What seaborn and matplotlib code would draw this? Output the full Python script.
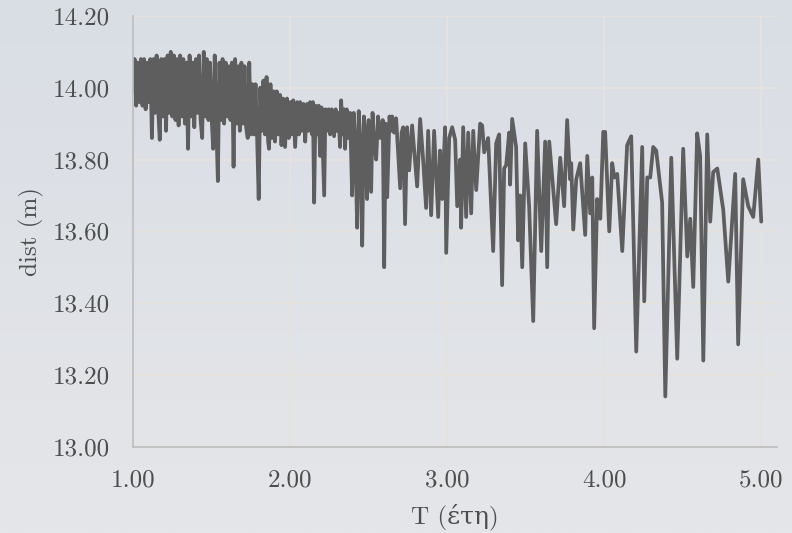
import numpy as np
import pandas as pd
import matplotlib
matplotlib.use("Agg")
import matplotlib.pyplot as plt
from matplotlib.colors import LinearSegmentedColormap
from matplotlib.ticker import FormatStrFormatter
import seaborn as sns

# Time (years) and distance (m) samples
t_years = [
    1.00, 1.01, 1.02, 1.03, 1.04, 1.05, 1.06, 1.07, 1.08, 1.09,
    1.10, 1.11, 1.12, 1.13, 1.14, 1.15, 1.16, 1.17, 1.18, 1.19,
    1.20, 1.21, 1.22, 1.23, 1.24, 1.25, 1.26, 1.27, 1.28, 1.29,
    1.30, 1.31, 1.32, 1.33, 1.34, 1.35, 1.36, 1.37, 1.38, 1.39,
    1.40, 1.41, 1.42, 1.43, 1.44, 1.45, 1.46, 1.47, 1.48, 1.49,
    1.50, 1.51, 1.52, 1.53, 1.54, 1.55, 1.56, 1.57, 1.58, 1.59,
    1.60, 1.61, 1.62, 1.63, 1.64, 1.65, 1.66, 1.67, 1.68, 1.69,
    1.70, 1.71, 1.72, 1.73, 1.74, 1.75,
    1.760, 1.770, 1.780, 1.790, 1.800, 1.810, 1.820, 1.830, 1.840, 1.850,
    1.860, 1.866, 1.875, 1.885, 1.895, 1.904, 1.915, 1.925, 1.936, 1.945,
    1.955, 1.968, 1.980, 1.992, 2.000, 2.010, 2.020, 2.032, 2.045, 2.056,
    2.064, 2.075, 2.085, 2.096, 2.108, 2.118, 2.127, 2.140, 2.145, 2.153,
    2.162, 2.172, 2.182, 2.191, 2.200, 2.217, 2.225, 2.235, 2.245, 2.255,
    2.265, 2.280, 2.290, 2.300, 2.308, 2.318, 2.325, 2.335, 2.343, 2.350,
    2.360, 2.372, 2.382, 2.395, 2.405, 2.415, 2.427, 2.437, 2.448, 2.459,
    2.470, 2.480, 2.490, 2.500, 2.516, 2.525, 2.535, 2.548, 2.560, 2.575,
    2.590, 2.599,
    2.609, 2.618, 2.633, 2.643, 2.650, 2.662, 2.675, 2.701, 2.710, 2.720,
    2.732, 2.745, 2.758, 2.777, 2.809, 2.828, 2.847, 2.866, 2.879, 2.898,
    2.917, 2.943, 2.955, 2.968, 2.987, 2.994, 3.013, 3.032, 3.051, 3.064,
    3.083, 3.089, 3.102, 3.121, 3.134, 3.153, 3.166, 3.185, 3.210, 3.223,
    3.236, 3.261, 3.293, 3.312, 3.331, 3.350, 3.363, 3.376, 3.395, 3.401,
    3.414, 3.439, 3.452, 3.465, 3.478, 3.497, 3.522, 3.548, 3.573, 3.599,
    3.624, 3.637, 3.650, 3.694, 3.720, 3.745, 3.764, 3.783, 3.790, 3.803,
    3.822, 3.847, 3.879, 3.892, 3.911, 3.924, 3.936, 3.955, 3.975, 3.994,
    4.006, 4.032, 4.051, 4.064, 4.083, 4.115, 4.146, 4.172, 4.204, 4.242,
    4.255, 4.274, 4.293, 4.312, 4.331, 4.369, 4.389, 4.427, 4.465, 4.503,
    4.529, 4.548, 4.567, 4.592, 4.611, 4.631, 4.656, 4.675, 4.694, 4.720,
    4.758, 4.790, 4.834, 4.853, 4.885, 4.917, 4.949, 4.981, 5.000,
]

dist_m = [
    13.99, 14.08, 13.95, 14.07, 13.96, 14.08, 13.95, 14.08, 13.94, 14.07,
    13.96, 14.08, 13.86, 14.08, 13.93, 14.09, 13.94, 13.855, 14.08, 13.92,
    14.08, 13.88, 14.09, 13.93, 14.10, 13.92, 14.09, 13.91, 14.08, 13.895,
    14.09, 13.92, 14.08, 13.90, 14.07, 13.83, 14.09, 13.92, 14.07, 13.89,
    14.08, 13.93, 14.09, 13.91, 13.86, 14.10, 13.92, 14.08, 13.91, 14.07,
    13.92, 13.83, 14.09, 13.90, 13.74, 14.07, 13.91, 14.08, 13.90, 14.07,
    13.92, 14.06, 13.91, 14.07, 13.78, 14.08, 13.90, 14.06, 13.88, 14.07,
    13.90, 14.06, 13.89, 13.86, 14.07, 13.87,
    14.01, 13.87, 14.01, 13.86, 13.69, 14.00, 13.88, 14.02, 13.87, 14.03,
    13.85, 13.83, 14.01, 13.86, 13.99, 13.85, 13.99, 13.87, 13.98, 13.84,
    13.97, 13.835, 13.97, 13.86, 13.96, 13.87, 13.965, 13.835, 13.96, 13.87,
    13.96, 13.88, 13.955, 13.85, 13.955, 13.88, 13.96, 13.87, 13.96, 13.68,
    13.95, 13.87, 13.95, 13.81, 13.945, 13.70, 13.94, 13.88, 13.94, 13.87,
    13.94, 13.865, 13.94, 13.88, 13.93, 13.835, 13.965, 13.87, 13.94, 13.83,
    13.94, 13.86, 13.93, 13.70, 13.93, 13.85, 13.61, 13.935, 13.84, 13.56,
    13.92, 13.87, 13.69, 13.91, 13.71, 13.93, 13.85, 13.80, 13.92, 13.86,
    13.91, 13.50,
    13.90, 13.695, 13.92, 13.88, 13.92, 13.875, 13.915, 13.72, 13.875, 13.89,
    13.62, 13.89, 13.77, 13.895, 13.725, 13.913, 13.80, 13.665, 13.88, 13.645,
    13.88, 13.64, 13.825, 13.69, 13.89, 13.54, 13.86, 13.89, 13.855, 13.67,
    13.80, 13.61, 13.89, 13.64, 13.875, 13.65, 13.88, 13.715, 13.90, 13.895,
    13.82, 13.86, 13.545, 13.845, 13.87, 13.45, 13.775, 13.785, 13.875, 13.73,
    13.913, 13.835, 13.575, 13.70, 13.50, 13.845, 13.67, 13.35, 13.88, 13.545,
    13.85, 13.50, 13.85, 13.62, 13.805, 13.67, 13.91, 13.745, 13.79, 13.605,
    13.745, 13.79, 13.59, 13.81, 13.65, 13.75, 13.33, 13.69, 13.635, 13.877,
    13.877, 13.60, 13.79, 13.75, 13.76, 13.545, 13.84, 13.865, 13.265, 13.835,
    13.405, 13.75, 13.75, 13.835, 13.825, 13.68, 13.14, 13.805, 13.245, 13.83,
    13.53, 13.635, 13.445, 13.873, 13.81, 13.24, 13.87, 13.627, 13.765, 13.775,
    13.66, 13.46, 13.76, 13.285, 13.745, 13.67, 13.64, 13.80, 13.627,
]

x_ticks = [1.0, 2.0, 3.0, 4.0, 5.0]
y_ticks = [13.0, 13.2, 13.4, 13.6, 13.8, 14.0, 14.2]

df = pd.DataFrame({"T": t_years, "dist": dist_m})

sns.set_theme(style="white")
plt.rcParams["font.family"] = ["cmr10", "DejaVu Serif"]
plt.rcParams["axes.unicode_minus"] = False

text_color = "#4d4d4d"
fig = plt.figure(figsize=(7.92, 5.33), dpi=100)

# soft vertical gradient behind everything
bg = fig.add_axes([0, 0, 1, 1], zorder=-10)
grad = np.linspace(0, 1, 256).reshape(-1, 1)
cmap = LinearSegmentedColormap.from_list("bg", ["#d9dee5", "#e5e6e9"])
bg.imshow(grad, aspect="auto", cmap=cmap, extent=[0, 1, 0, 1], origin="upper")
bg.set_axis_off()

ax = fig.add_axes([0.168, 0.162, 0.813, 0.808])
ax.set_facecolor("none")

sns.lineplot(data=df, x="T", y="dist", ax=ax, color="#5e5e5e",
             linewidth=2.7, estimator=None, sort=False)

ax.set_xlim(1.0, 5.1)
ax.set_ylim(13.0, 14.2)
ax.set_xticks(x_ticks)
ax.set_yticks(y_ticks)
ax.xaxis.set_major_formatter(FormatStrFormatter("%.2f"))
ax.yaxis.set_major_formatter(FormatStrFormatter("%.2f"))

ax.grid(True, color="#e6e2de", linewidth=1.3)
ax.set_axisbelow(True)
for side in ("top", "right"):
    ax.spines[side].set_visible(False)
for side in ("left", "bottom"):
    ax.spines[side].set_color("#bdbdbd")
    ax.spines[side].set_linewidth(1.2)

ax.tick_params(axis="both", length=0, labelsize=18, labelcolor=text_color)
ax.tick_params(axis="y", pad=17)
ax.tick_params(axis="x", pad=16)

ax.set_xlabel("T (έτη)", fontsize=18, color=text_color, labelpad=9)
ax.set_ylabel("dist (m)", fontsize=18, color=text_color, labelpad=6)

fig.savefig("out.png", dpi=100)
